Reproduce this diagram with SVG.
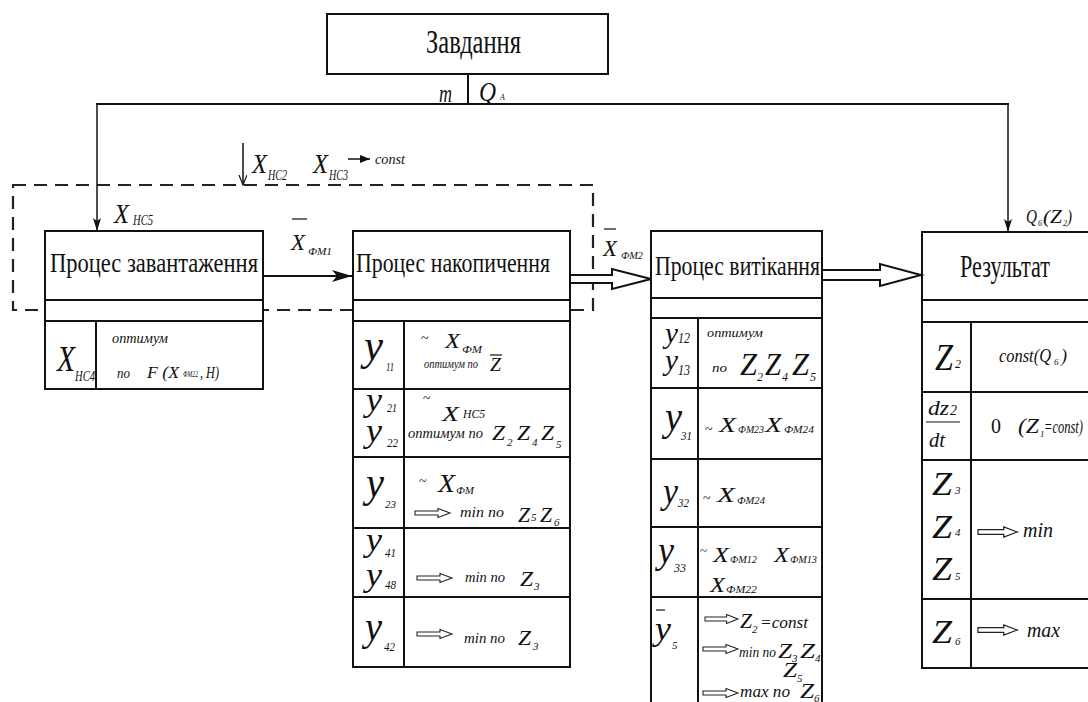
<svg xmlns="http://www.w3.org/2000/svg" xmlns:xlink="http://www.w3.org/1999/xlink" width="1088" height="702" viewBox="0 0 1088 702">
<style>
.s{font-family:"Liberation Serif","Times New Roman","DejaVu Serif",serif;fill:#111}
.i{font-style:italic}
.box{fill:#fff;stroke:#111;stroke-width:2}
.ln{stroke:#111;stroke-width:2;fill:none}
.tl{stroke:#111;stroke-width:1.5;fill:none}
.ol{stroke:#111;stroke-width:1.2}
.ha{fill:#fff;stroke:#222;stroke-width:1.1}
.dash{fill:none;stroke:#222;stroke-width:2.2;stroke-dasharray:13 8}
.dbl{fill:#fff;stroke:#111;stroke-width:2;stroke-linejoin:miter}
</style>
<defs>
<marker id="fa" markerUnits="userSpaceOnUse" markerWidth="22" markerHeight="12" refX="20" refY="6" orient="auto"><path d="M0,0 L20,6 L0,12 L5,6 z" fill="#111"/></marker>
<marker id="va" markerUnits="userSpaceOnUse" markerWidth="14" markerHeight="10" refX="13" refY="4" orient="auto"><path d="M0,0 L13,4 L0,8 L3,4 z" fill="#111"/></marker>
<marker id="ov" markerUnits="userSpaceOnUse" markerWidth="12" markerHeight="10" refX="10" refY="4" orient="auto"><path d="M0,0 L10,4 L0,8" fill="none" stroke="#111" stroke-width="1.2"/></marker>
<marker id="sa" markerUnits="userSpaceOnUse" markerWidth="12" markerHeight="10" refX="10" refY="4" orient="auto"><path d="M0,0 L10,4 L0,8 z" fill="#111"/></marker>
<path id="ha" class="ha" d="M0,-2 H23 V-4.5 L35,0 L23,4.5 V2 H0 Z"/>
</defs>
<rect width="1088" height="702" fill="#fff"/>

<g id="dashed-region">
<rect class="dash" x="13" y="185" width="580" height="125"/>
</g>

<g id="zavdannya">
<rect class="box" x="327" y="14" width="281" height="60"/>
<text class="s" x="426" y="53" font-size="34" textLength="95" lengthAdjust="spacingAndGlyphs">Завдання</text>
</g>

<g id="zavantazhennya">
<rect class="box" x="45" y="231" width="218" height="158"/>
<line class="ln" x1="45" y1="300" x2="263" y2="300"/>
<line class="ln" x1="45" y1="321" x2="263" y2="321"/>
<line class="ln" x1="96" y1="321" x2="96" y2="389"/>
<text class="s" x="50" y="272" font-size="27" textLength="208" lengthAdjust="spacingAndGlyphs">Процес завантаження</text>
<text class="s i" x="57" y="371" font-size="36" textLength="18" lengthAdjust="spacingAndGlyphs">X</text>
<text class="s i" x="75" y="381" font-size="14" textLength="20" lengthAdjust="spacingAndGlyphs">HC4</text>
<text class="s i" x="112" y="343" font-size="14" textLength="56" lengthAdjust="spacingAndGlyphs">оптимум</text>
<text class="s i" x="117" y="378" font-size="15" textLength="13" lengthAdjust="spacingAndGlyphs">по</text>
<text class="s i" x="147" y="378" font-size="17" textLength="32" lengthAdjust="spacingAndGlyphs">F (X</text>
<text class="s i" x="183" y="377" font-size="8" textLength="15" lengthAdjust="spacingAndGlyphs">ФМ22</text>
<text class="s i" x="200" y="378" font-size="17" textLength="19" lengthAdjust="spacingAndGlyphs">, H)</text>
</g>

<g id="nakopychennya">
<rect class="box" x="353" y="231" width="217" height="436"/>
<line class="ln" x1="353" y1="300" x2="570" y2="300"/>
<line class="ln" x1="353" y1="321" x2="570" y2="321"/>
<line class="ln" x1="353" y1="389" x2="570" y2="389"/>
<line class="ln" x1="353" y1="457" x2="570" y2="457"/>
<line class="ln" x1="353" y1="528" x2="570" y2="528"/>
<line class="ln" x1="353" y1="597" x2="570" y2="597"/>
<line class="ln" x1="404" y1="321" x2="404" y2="667"/>
<text class="s" x="356" y="272" font-size="27" textLength="194" lengthAdjust="spacingAndGlyphs">Процес накопичення</text>
<!-- row 1 -->
<text class="s i" x="364" y="360" font-size="44" textLength="19" lengthAdjust="spacingAndGlyphs">y</text>
<text class="s i" x="386" y="371" font-size="13" textLength="8" lengthAdjust="spacingAndGlyphs">11</text>
<text class="s" x="421" y="343" font-size="14">~</text>
<text class="s i" x="445" y="348" font-size="22" textLength="15" lengthAdjust="spacingAndGlyphs">X</text>
<text class="s i" x="462" y="353" font-size="11" textLength="20" lengthAdjust="spacingAndGlyphs">ФМ</text>
<text class="s i" x="424" y="368" font-size="13" textLength="54" lengthAdjust="spacingAndGlyphs">оптимум по</text>
<text class="s i" x="490" y="371" font-size="18" textLength="11" lengthAdjust="spacingAndGlyphs">Z</text>
<line class="ol" x1="490" y1="355" x2="502" y2="355"/>
<!-- row 2 -->
<text class="s i" x="366" y="411" font-size="34" textLength="16" lengthAdjust="spacingAndGlyphs">y</text>
<text class="s i" x="387" y="412" font-size="13" textLength="10" lengthAdjust="spacingAndGlyphs">21</text>
<text class="s i" x="366" y="442" font-size="34" textLength="16" lengthAdjust="spacingAndGlyphs">y</text>
<text class="s i" x="387" y="447" font-size="13" textLength="11" lengthAdjust="spacingAndGlyphs">22</text>
<text class="s" x="423" y="403" font-size="14">~</text>
<text class="s i" x="442" y="421" font-size="22" textLength="17" lengthAdjust="spacingAndGlyphs">X</text>
<text class="s i" x="463" y="418" font-size="12" textLength="22" lengthAdjust="spacingAndGlyphs">HC5</text>
<text class="s i" x="408" y="438" font-size="14" textLength="75" lengthAdjust="spacingAndGlyphs">оптимум по</text>
<text class="s i" x="492" y="440" font-size="21" textLength="13" lengthAdjust="spacingAndGlyphs">Z</text>
<text class="s i" x="507" y="446" font-size="11">2</text>
<text class="s i" x="517" y="440" font-size="21" textLength="13" lengthAdjust="spacingAndGlyphs">Z</text>
<text class="s i" x="532" y="446" font-size="11">4</text>
<text class="s i" x="541" y="440" font-size="21" textLength="13" lengthAdjust="spacingAndGlyphs">Z</text>
<text class="s i" x="556" y="448" font-size="11">5</text>
<!-- row 3 -->
<text class="s i" x="366" y="497" font-size="44" textLength="18" lengthAdjust="spacingAndGlyphs">y</text>
<text class="s i" x="385" y="508" font-size="11" textLength="11" lengthAdjust="spacingAndGlyphs">23</text>
<text class="s" x="419" y="486" font-size="14">~</text>
<text class="s i" x="438" y="492" font-size="26" textLength="17" lengthAdjust="spacingAndGlyphs">X</text>
<text class="s i" x="456" y="494" font-size="11" textLength="18" lengthAdjust="spacingAndGlyphs">ФМ</text>
<use href="#ha" xlink:href="#ha" transform="translate(415,513)"/>
<text class="s i" x="460" y="517" font-size="14" textLength="44" lengthAdjust="spacingAndGlyphs">min по</text>
<text class="s i" x="518" y="522" font-size="20" textLength="12" lengthAdjust="spacingAndGlyphs">Z</text>
<text class="s i" x="531" y="521" font-size="11">5</text>
<text class="s i" x="540" y="522" font-size="20" textLength="12" lengthAdjust="spacingAndGlyphs">Z</text>
<text class="s i" x="554" y="526" font-size="11">6</text>
<!-- row 4 -->
<text class="s i" x="366" y="551" font-size="34" textLength="16" lengthAdjust="spacingAndGlyphs">y</text>
<text class="s i" x="385" y="557" font-size="12" textLength="11" lengthAdjust="spacingAndGlyphs">41</text>
<text class="s i" x="366" y="586" font-size="34" textLength="16" lengthAdjust="spacingAndGlyphs">y</text>
<text class="s i" x="385" y="589" font-size="12" textLength="11" lengthAdjust="spacingAndGlyphs">48</text>
<use href="#ha" xlink:href="#ha" transform="translate(417,578)"/>
<text class="s i" x="465" y="582" font-size="14" textLength="40" lengthAdjust="spacingAndGlyphs">min по</text>
<text class="s i" x="520" y="586" font-size="20" textLength="13" lengthAdjust="spacingAndGlyphs">Z</text>
<text class="s i" x="534" y="590" font-size="11">3</text>
<!-- row 5 -->
<text class="s i" x="365" y="640" font-size="40" textLength="17" lengthAdjust="spacingAndGlyphs">y</text>
<text class="s i" x="384" y="651" font-size="12" textLength="11" lengthAdjust="spacingAndGlyphs">42</text>
<use href="#ha" xlink:href="#ha" transform="translate(417,634)"/>
<text class="s i" x="464" y="643" font-size="14" textLength="41" lengthAdjust="spacingAndGlyphs">min по</text>
<text class="s i" x="518" y="645" font-size="20" textLength="13" lengthAdjust="spacingAndGlyphs">Z</text>
<text class="s i" x="533" y="650" font-size="11">3</text>
</g>

<g id="vytikannya">
<rect class="box" x="651" y="231" width="171" height="480"/>
<line class="ln" x1="651" y1="298" x2="822" y2="298"/>
<line class="ln" x1="651" y1="318" x2="822" y2="318"/>
<line class="ln" x1="651" y1="388" x2="822" y2="388"/>
<line class="ln" x1="651" y1="459" x2="822" y2="459"/>
<line class="ln" x1="651" y1="527" x2="822" y2="527"/>
<line class="ln" x1="651" y1="597" x2="822" y2="597"/>
<line class="ln" x1="698" y1="318" x2="698" y2="711"/>
<text class="s" x="655" y="275" font-size="27" textLength="165" lengthAdjust="spacingAndGlyphs">Процес витікання</text>
<!-- row 1 -->
<text class="s i" x="665" y="343" font-size="30" textLength="13" lengthAdjust="spacingAndGlyphs">y</text>
<text class="s i" x="678" y="343" font-size="14" textLength="12" lengthAdjust="spacingAndGlyphs">12</text>
<text class="s i" x="665" y="370" font-size="30" textLength="13" lengthAdjust="spacingAndGlyphs">y</text>
<text class="s i" x="678" y="375" font-size="14" textLength="12" lengthAdjust="spacingAndGlyphs">13</text>
<text class="s i" x="707" y="337" font-size="13" textLength="56" lengthAdjust="spacingAndGlyphs">оптимум</text>
<text class="s i" x="712" y="372" font-size="13" textLength="15" lengthAdjust="spacingAndGlyphs">по</text>
<text class="s i" x="740" y="375" font-size="32" textLength="17" lengthAdjust="spacingAndGlyphs">Z</text>
<text class="s i" x="757" y="381" font-size="12">2</text>
<text class="s i" x="765" y="375" font-size="32" textLength="16" lengthAdjust="spacingAndGlyphs">Z</text>
<text class="s i" x="782" y="381" font-size="12">4</text>
<text class="s i" x="792" y="375" font-size="32" textLength="17" lengthAdjust="spacingAndGlyphs">Z</text>
<text class="s i" x="810" y="381" font-size="12">5</text>
<!-- row 2 -->
<text class="s i" x="665" y="430" font-size="40" textLength="17" lengthAdjust="spacingAndGlyphs">y</text>
<text class="s i" x="681" y="440" font-size="12" textLength="11" lengthAdjust="spacingAndGlyphs">31</text>
<text class="s" x="705" y="434" font-size="14">~</text>
<text class="s i" x="719" y="432" font-size="22" textLength="17" lengthAdjust="spacingAndGlyphs">X</text>
<text class="s i" x="738" y="433" font-size="11" textLength="26" lengthAdjust="spacingAndGlyphs">ФМ23</text>
<text class="s i" x="765" y="432" font-size="22" textLength="17" lengthAdjust="spacingAndGlyphs">X</text>
<text class="s i" x="784" y="433" font-size="11" textLength="30" lengthAdjust="spacingAndGlyphs">ФМ24</text>
<!-- row 3 -->
<text class="s i" x="663" y="503" font-size="36" textLength="15" lengthAdjust="spacingAndGlyphs">y</text>
<text class="s i" x="678" y="507" font-size="12" textLength="11" lengthAdjust="spacingAndGlyphs">32</text>
<text class="s" x="703" y="503" font-size="14">~</text>
<text class="s i" x="717" y="502" font-size="22" textLength="18" lengthAdjust="spacingAndGlyphs">X</text>
<text class="s i" x="737" y="504" font-size="11" textLength="28" lengthAdjust="spacingAndGlyphs">ФМ24</text>
<!-- row 4 -->
<text class="s i" x="658" y="563" font-size="38" textLength="16" lengthAdjust="spacingAndGlyphs">y</text>
<text class="s i" x="674" y="572" font-size="12" textLength="12" lengthAdjust="spacingAndGlyphs">33</text>
<text class="s" x="700" y="555" font-size="13">~</text>
<text class="s i" x="713" y="562" font-size="20" textLength="16" lengthAdjust="spacingAndGlyphs">X</text>
<text class="s i" x="730" y="563" font-size="11" textLength="27" lengthAdjust="spacingAndGlyphs">ФМ12</text>
<text class="s i" x="774" y="562" font-size="20" textLength="15" lengthAdjust="spacingAndGlyphs">X</text>
<text class="s i" x="790" y="563" font-size="11" textLength="27" lengthAdjust="spacingAndGlyphs">ФМ13</text>
<text class="s i" x="710" y="592" font-size="20" textLength="15" lengthAdjust="spacingAndGlyphs">X</text>
<text class="s i" x="726" y="593" font-size="11" textLength="31" lengthAdjust="spacingAndGlyphs">ФМ22</text>
<!-- row 5 -->
<line class="ol" x1="656" y1="610" x2="665" y2="610"/>
<text class="s i" x="655" y="640" font-size="34" textLength="16" lengthAdjust="spacingAndGlyphs">y</text>
<text class="s i" x="672" y="649" font-size="11">5</text>
<use href="#ha" xlink:href="#ha" transform="translate(705,619) scale(0.94,1)"/>
<text class="s i" x="740" y="628" font-size="20" textLength="12" lengthAdjust="spacingAndGlyphs">Z</text>
<text class="s i" x="752" y="633" font-size="11">2</text>
<text class="s i" x="760" y="628" font-size="16" textLength="48" lengthAdjust="spacingAndGlyphs">=const</text>
<use href="#ha" xlink:href="#ha" transform="translate(703,649)"/>
<text class="s i" x="739" y="657" font-size="15" textLength="37" lengthAdjust="spacingAndGlyphs">min по</text>
<text class="s i" x="778" y="658" font-size="22" textLength="14" lengthAdjust="spacingAndGlyphs">Z</text>
<text class="s i" x="792" y="662" font-size="11">3</text>
<text class="s i" x="800" y="658" font-size="22" textLength="15" lengthAdjust="spacingAndGlyphs">Z</text>
<text class="s i" x="815" y="662" font-size="11">4</text>
<text class="s i" x="783" y="677" font-size="20" textLength="14" lengthAdjust="spacingAndGlyphs">Z</text>
<text class="s i" x="797" y="682" font-size="11">5</text>
<use href="#ha" xlink:href="#ha" transform="translate(703,693)"/>
<text class="s i" x="740" y="697" font-size="16" textLength="50" lengthAdjust="spacingAndGlyphs">max по</text>
<text class="s i" x="800" y="698" font-size="20" textLength="14" lengthAdjust="spacingAndGlyphs">Z</text>
<text class="s i" x="814" y="702" font-size="11">6</text>
</g>

<g id="rezultat">
<rect class="box" x="922" y="232" width="180" height="436"/>
<line class="ln" x1="922" y1="300" x2="1100" y2="300"/>
<line class="ln" x1="922" y1="322" x2="1100" y2="322"/>
<line class="ln" x1="922" y1="392" x2="1100" y2="392"/>
<line class="ln" x1="922" y1="460" x2="1100" y2="460"/>
<line class="ln" x1="922" y1="599" x2="1100" y2="599"/>
<line class="ln" x1="971" y1="322" x2="971" y2="668"/>
<text class="s" x="960" y="277" font-size="31" textLength="90" lengthAdjust="spacingAndGlyphs">Результат</text>
<!-- row 1 -->
<text class="s i" x="935" y="370" font-size="38" textLength="18" lengthAdjust="spacingAndGlyphs">Z</text>
<text class="s i" x="955" y="368" font-size="12">2</text>
<text class="s i" x="999" y="362" font-size="18" textLength="52" lengthAdjust="spacingAndGlyphs">const(Q</text>
<text class="s i" x="1054" y="365" font-size="9">6</text>
<text class="s i" x="1061" y="362" font-size="18">)</text>
<!-- row 2 -->
<text class="s i" x="928" y="415" font-size="22" textLength="21" lengthAdjust="spacingAndGlyphs">dz</text>
<text class="s i" x="950" y="415" font-size="14">2</text>
<line class="ol" x1="926" y1="422" x2="960" y2="422"/>
<text class="s i" x="929" y="447" font-size="22" textLength="16" lengthAdjust="spacingAndGlyphs">dt</text>
<text class="s" x="991" y="433" font-size="22" textLength="10" lengthAdjust="spacingAndGlyphs">0</text>
<text class="s i" x="1018" y="433" font-size="20" textLength="21" lengthAdjust="spacingAndGlyphs">(Z</text>
<text class="s i" x="1040" y="437" font-size="9">1</text>
<text class="s i" x="1044" y="433" font-size="18" textLength="39" lengthAdjust="spacingAndGlyphs">=const)</text>
<!-- row 3 -->
<text class="s i" x="932" y="495" font-size="34" textLength="20" lengthAdjust="spacingAndGlyphs">Z</text>
<text class="s i" x="955" y="494" font-size="11">3</text>
<text class="s i" x="932" y="538" font-size="34" textLength="20" lengthAdjust="spacingAndGlyphs">Z</text>
<text class="s i" x="955" y="536" font-size="11">4</text>
<text class="s i" x="932" y="580" font-size="34" textLength="20" lengthAdjust="spacingAndGlyphs">Z</text>
<text class="s i" x="955" y="580" font-size="11">5</text>
<use href="#ha" xlink:href="#ha" transform="translate(978,532) scale(1.12,1.15)"/>
<text class="s i" x="1023" y="537" font-size="22" textLength="30" lengthAdjust="spacingAndGlyphs">min</text>
<!-- row 4 -->
<text class="s i" x="932" y="643" font-size="34" textLength="20" lengthAdjust="spacingAndGlyphs">Z</text>
<text class="s i" x="955" y="645" font-size="11">6</text>
<use href="#ha" xlink:href="#ha" transform="translate(978,630) scale(1.12,1.15)"/>
<text class="s i" x="1027" y="637" font-size="22" textLength="33" lengthAdjust="spacingAndGlyphs">max</text>
</g>

<g id="connectors">
<line class="ln" x1="468" y1="74" x2="468" y2="104"/>
<line class="ln" x1="96" y1="104" x2="1009" y2="104"/>
<line class="tl" x1="97" y1="104" x2="97" y2="231" marker-end="url(#va)"/>
<line class="tl" x1="1008" y1="104" x2="1008" y2="232" marker-end="url(#va)"/>
<line class="tl" x1="243" y1="143" x2="243" y2="185" marker-end="url(#ov)"/>
<line class="tl" x1="348" y1="159" x2="370" y2="159" marker-end="url(#sa)"/>
<line class="ln" x1="263" y1="276" x2="352" y2="276" marker-end="url(#fa)"/>
<path class="dbl" d="M571,275 H612 V269 L651,279 L612,289 V283 H571"/>
<path class="dbl" d="M823,270 H880 V264 L921,275 L880,286 V280 H823"/>
</g>

<g id="labels">
<text class="s i" x="439" y="102" font-size="26" textLength="13" lengthAdjust="spacingAndGlyphs">m</text>
<text class="s i" x="479" y="101" font-size="27" textLength="17" lengthAdjust="spacingAndGlyphs">Q</text>
<text class="s i" x="500" y="100" font-size="8">A</text>
<text class="s i" x="252" y="173" font-size="28" textLength="15" lengthAdjust="spacingAndGlyphs">X</text>
<text class="s i" x="268" y="180" font-size="14" textLength="19" lengthAdjust="spacingAndGlyphs">HC2</text>
<text class="s i" x="313" y="173" font-size="28" textLength="15" lengthAdjust="spacingAndGlyphs">X</text>
<text class="s i" x="329" y="180" font-size="14" textLength="19" lengthAdjust="spacingAndGlyphs">HC3</text>
<text class="s i" x="375" y="164" font-size="15" textLength="30" lengthAdjust="spacingAndGlyphs">const</text>
<text class="s i" x="114" y="223" font-size="28" textLength="15" lengthAdjust="spacingAndGlyphs">X</text>
<text class="s i" x="133" y="225" font-size="14" textLength="20" lengthAdjust="spacingAndGlyphs">HC5</text>
<line class="ol" x1="292" y1="219" x2="307" y2="219"/>
<text class="s i" x="291" y="250" font-size="24" textLength="14" lengthAdjust="spacingAndGlyphs">X</text>
<text class="s i" x="308" y="255" font-size="10" textLength="24" lengthAdjust="spacingAndGlyphs">ФМ1</text>
<line class="ol" x1="604" y1="229" x2="616" y2="229"/>
<text class="s i" x="603" y="256" font-size="24" textLength="14" lengthAdjust="spacingAndGlyphs">X</text>
<text class="s i" x="621" y="259" font-size="10" textLength="22" lengthAdjust="spacingAndGlyphs">ФМ2</text>
<text class="s i" x="1026" y="223" font-size="18" textLength="11" lengthAdjust="spacingAndGlyphs">Q</text>
<text class="s i" x="1038" y="226" font-size="8">6</text>
<text class="s i" x="1043" y="223" font-size="18" textLength="19" lengthAdjust="spacingAndGlyphs">(Z</text>
<text class="s i" x="1063" y="226" font-size="8">2</text>
<text class="s i" x="1067" y="223" font-size="18" textLength="5" lengthAdjust="spacingAndGlyphs">)</text>
</g>
</svg>
